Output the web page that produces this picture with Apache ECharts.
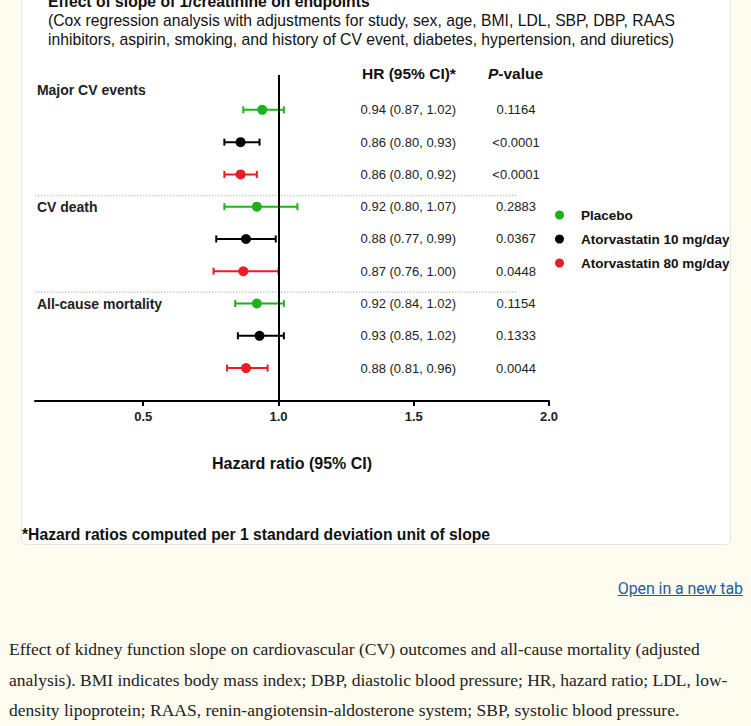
<!DOCTYPE html>
<html><head><meta charset="utf-8">
<script src="https://cdn.jsdelivr.net/npm/echarts@6/dist/echarts.min.js"></script>
<style>
html,body{margin:0;padding:0;background:#fefcef;width:751px;height:726px;overflow:hidden;}
#card{position:absolute;left:21px;top:-10px;width:710px;height:555px;background:#fff;border:1px solid #e6e6e2;border-radius:5px;box-sizing:border-box;}
#chart{position:absolute;left:0;top:0;width:751px;height:560px;}
#link{position:absolute;right:8px;top:579px;font-family:'Roboto',sans-serif;font-size:16px;letter-spacing:-0.1px;color:#1a5ea6;text-decoration:underline;}
#caption{position:absolute;left:9px;top:634px;font-family:'Liberation Serif',serif;font-size:17.5px;letter-spacing:0px;line-height:30.5px;color:#222;white-space:nowrap;}
</style></head>
<body>
<div id="card"></div>
<div id="chart"></div>
<div id="link">Open in a new tab</div>
<div id="caption">Effect of kidney function slope on cardiovascular (CV) outcomes and all-cause mortality (adjusted<br>analysis). BMI indicates body mass index; DBP, diastolic blood pressure; HR, hazard ratio; LDL, low-<br>density lipoprotein; RAAS, renin-angiotensin-aldosterone system; SBP, systolic blood pressure.</div>
<script>
// ---- data ----
const groups = ['Major CV events', 'CV death', 'All-cause mortality'];
const treatments = ['Placebo', 'Atorvastatin 10 mg/day', 'Atorvastatin 80 mg/day'];
const hrPlacebo = [0.94, 0.92, 0.92];
const loPlacebo = [0.87, 0.80, 0.84];
const hiPlacebo = [1.02, 1.07, 1.02];
const pPlacebo = ['0.1164', '0.2883', '0.1154'];
const hrAtorva10 = [0.86, 0.88, 0.93];
const loAtorva10 = [0.80, 0.77, 0.85];
const hiAtorva10 = [0.93, 0.99, 1.02];
const pAtorva10 = ['<0.0001', '0.0367', '0.1333'];
const hrAtorva80 = [0.86, 0.87, 0.88];
const loAtorva80 = [0.80, 0.76, 0.81];
const hiAtorva80 = [0.92, 1.00, 0.96];
const pAtorva80 = ['<0.0001', '0.0448', '0.0044'];
const xTickValues = [0.5, 1.0, 1.5, 2.0];
const referenceHR = 1.0;

// ---- styling / layout ----
const colors = ['#1fb01f', '#000000', '#ec1c24'];
const FONT = "'Liberation Sans', Arial, sans-serif";
const hr = [hrPlacebo, hrAtorva10, hrAtorva80];
const lo = [loPlacebo, loAtorva10, loAtorva80];
const hi = [hiPlacebo, hiAtorva10, hiAtorva80];
const pv = [pPlacebo, pAtorva10, pAtorva80];
const X_MIN = 0.1, X_MAX = 2.0;
const HR_COL = 1.48, P_COL = 1.878, LABEL_X = 0.107, SEP_END = 1.886;
const rowOf = (g, t) => g * 3 + t;

const tableItems = [];
groups.forEach((g, gi) => {
  tableItems.push({x: LABEL_X, row: gi === 0 ? -0.6 : rowOf(gi, 0), text: g, align: 'left', bold: true, size: 14});
  treatments.forEach((t, ti) => {
    tableItems.push({x: HR_COL, row: rowOf(gi, ti), text: hr[ti][gi].toFixed(2) + ' (' + lo[ti][gi].toFixed(2) + ', ' + hi[ti][gi].toFixed(2) + ')', align: 'center', bold: false, size: 13});
    tableItems.push({x: P_COL, row: rowOf(gi, ti), text: pv[ti][gi], align: 'center', bold: false, size: 13});
  });
});
const errData = [];
treatments.forEach((t, ti) => groups.forEach((g, gi) => errData.push([lo[ti][gi], hi[ti][gi], rowOf(gi, ti), ti])));
const sepData = groups.slice(1).map((g, i) => [X_MIN, SEP_END, rowOf(i + 1, 0) - 0.35]);

const chart = echarts.init(document.getElementById('chart'), null, {renderer: 'svg'});
const series = [];
treatments.forEach((t, ti) => {
  series.push({
    name: t, type: 'scatter', symbol: 'circle', symbolSize: 10, z: 5,
    itemStyle: {color: colors[ti], opacity: 1},
    data: groups.map((g, gi) => [hr[ti][gi], rowOf(gi, ti)]),
    markLine: ti === 0 ? {silent: true, symbol: 'none', label: {show: false},
      lineStyle: {color: '#000', width: 2, type: 'solid'}, emphasis: {disabled: true},
      data: [{xAxis: referenceHR}]} : undefined
  });
});
series.push({
  type: 'custom', name: 'ci', z: 4, silent: true,
  encode: {x: [0, 1], y: 2},
  data: errData,
  renderItem: function (params, api) {
    const a = api.coord([api.value(0), api.value(2)]);
    const b = api.coord([api.value(1), api.value(2)]);
    const c = colors[api.value(3)];
    const h = 3.5;
    const st = {stroke: c, lineWidth: 2};
    return {type: 'group', children: [
      {type: 'line', shape: {x1: a[0], y1: a[1], x2: b[0], y2: b[1]}, style: st},
      {type: 'line', shape: {x1: a[0], y1: a[1] - h, x2: a[0], y2: a[1] + h}, style: st},
      {type: 'line', shape: {x1: b[0], y1: b[1] - h, x2: b[0], y2: b[1] + h}, style: st}
    ]};
  }
});
series.push({
  type: 'custom', name: 'sep', z: 1, silent: true,
  encode: {x: [0, 1], y: 2},
  data: sepData,
  renderItem: function (params, api) {
    const a = api.coord([api.value(0), api.value(2)]);
    const b = api.coord([api.value(1), api.value(2)]);
    return {type: 'line', shape: {x1: a[0], y1: a[1], x2: b[0], y2: b[1]},
      style: {stroke: '#cfcfcf', lineWidth: 1.5, lineDash: [1.5, 1.5]}};
  }
});
series.push({
  type: 'custom', name: 'table', z: 6, silent: true,
  encode: {x: 0, y: 1},
  data: tableItems.map(d => [d.x, d.row]),
  renderItem: function (params, api) {
    const d = tableItems[params.dataIndex];
    const p = api.coord([api.value(0), api.value(1)]);
    return {type: 'text', x: p[0], y: p[1], style: {text: d.text, fill: '#222',
      font: (d.bold ? 'bold ' : '') + d.size + 'px ' + FONT, align: d.align, verticalAlign: 'middle'}};
  }
});

chart.setOption({
  animation: false,
  grid: {left: 35, right: 202, top: 75, bottom: 159},
  xAxis: {
    type: 'value', min: X_MIN, max: X_MAX,
    axisLine: {show: true, onZero: false, lineStyle: {color: '#000', width: 2}},
    axisTick: {show: true, customValues: xTickValues, length: 5, lineStyle: {color: '#000', width: 2}},
    axisLabel: {customValues: xTickValues, formatter: v => v.toFixed(1), fontFamily: FONT,
      fontWeight: 'bold', fontSize: 13, color: '#222', margin: 9},
    splitLine: {show: false},
    name: 'Hazard ratio (95% CI)', nameLocation: 'middle', nameGap: 54,
    nameTextStyle: {fontFamily: FONT, fontWeight: 'bold', fontSize: 16, color: '#111'}
  },
  yAxis: {type: 'value', inverse: true, min: -1.08, max: 9.02, show: false},
  legend: {
    orient: 'vertical', left: 550, top: 202, itemWidth: 9, itemHeight: 9, itemGap: 8,
    icon: 'circle', data: treatments, selectedMode: false,
    textStyle: {fontFamily: FONT, fontWeight: 'bold', fontSize: 13.5, color: '#111',
      padding: [0, 0, 0, 12], lineHeight: 16}
  },
  graphic: [
    {type: 'text', left: 48, top: -7, style: {text: 'Effect of slope of 1/creatinine on endpoints',
      font: 'bold 15.7px ' + FONT, fill: '#111'}},
    {type: 'text', left: 48, top: 12, style: {text: '(Cox regression analysis with adjustments for study, sex, age, BMI, LDL, SBP, DBP, RAAS',
      font: '15.7px ' + FONT, fill: '#111'}},
    {type: 'text', left: 48, top: 31, style: {text: 'inhibitors, aspirin, smoking, and history of CV event, diabetes, hypertension, and diuretics)',
      font: '15.7px ' + FONT, fill: '#111'}},
    {type: 'text', left: 362, top: 65, style: {text: 'HR (95% CI)*', font: 'bold 15.5px ' + FONT, fill: '#111'}},
    {type: 'text', left: 488, top: 65, style: {text: '{i|P}-value', font: 'bold 15.5px ' + FONT, fill: '#111',
      rich: {i: {fontStyle: 'italic', fontWeight: 'bold', fontSize: 15.5, fontFamily: FONT}}}},
    {type: 'text', left: 22, top: 526, style: {text: '*Hazard ratios computed per 1 standard deviation unit of slope',
      font: 'bold 15.7px ' + FONT, fill: '#111'}}
  ],
  series: series
});
</script>
</body></html>
